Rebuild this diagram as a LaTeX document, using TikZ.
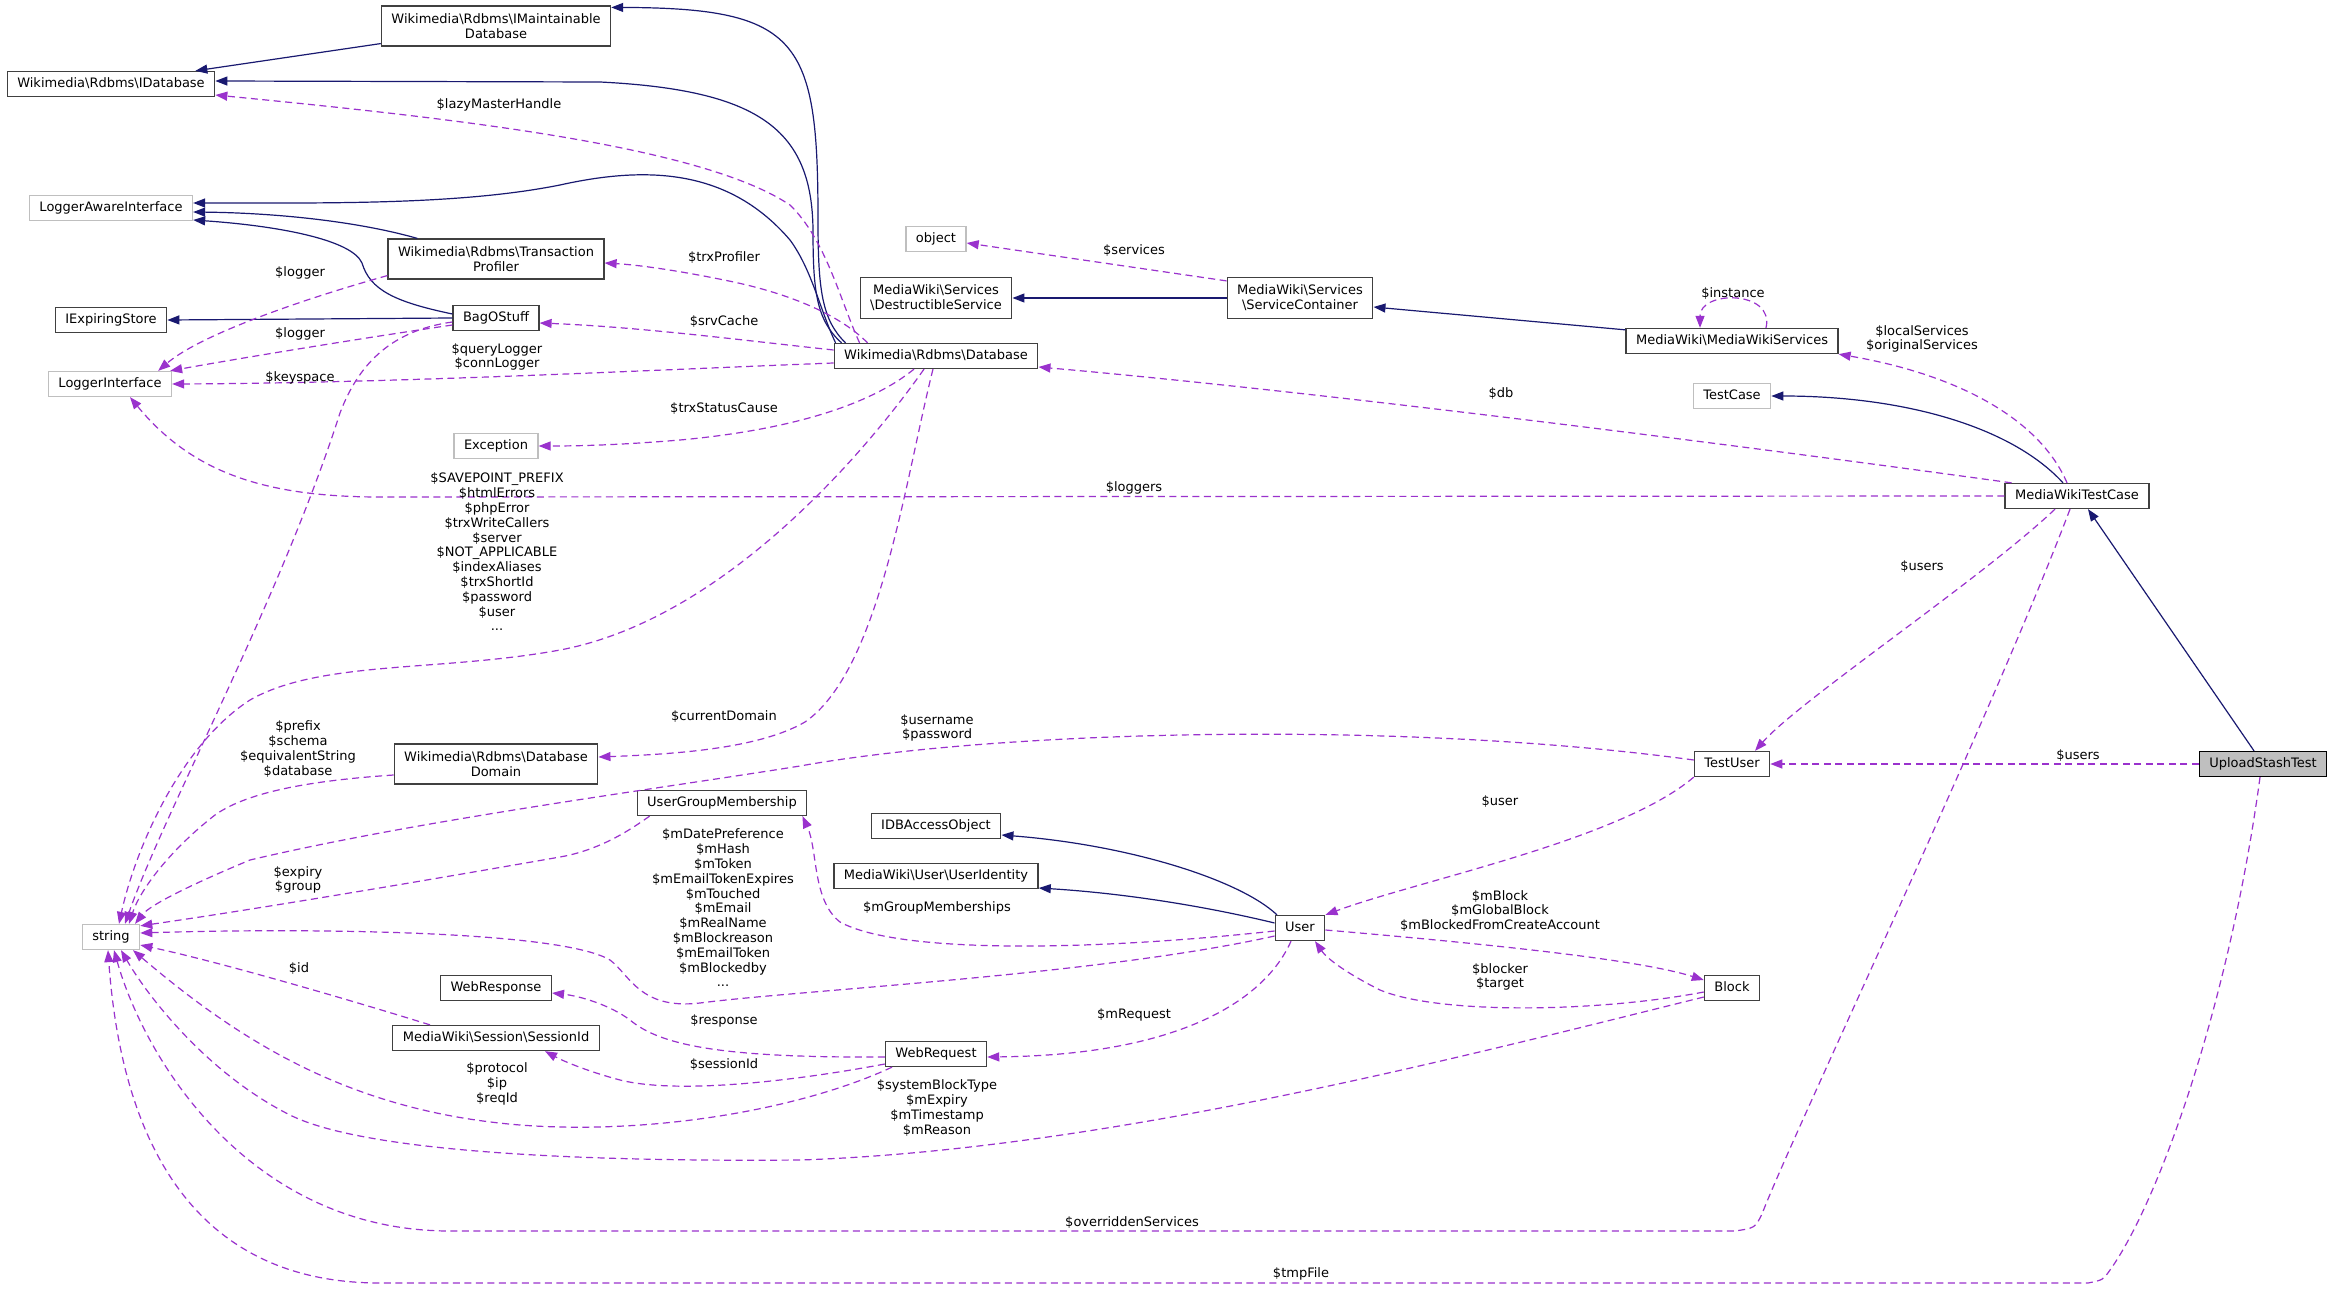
\documentclass[tikz,border=0pt]{standalone}
\usepackage{fontspec}
\setmainfont{DejaVu Sans}
\usetikzlibrary{arrows.meta}
\definecolor{navyline}{HTML}{191970}
\definecolor{orchid}{HTML}{9A32CD}
\definecolor{extgray}{HTML}{BFBFBF}
\definecolor{boxline}{HTML}{404040}
\newcommand{\bksl}{\textbackslash}

\begin{document}
\begin{tikzpicture}[x=1pt,y=-1pt,font=\fontsize{13}{14.8}\selectfont,
  cls/.style={draw=boxline,line width=1.3pt,fill=white,inner xsep=10pt,inner ysep=6pt,text height=10pt,text depth=3pt},
  cls2/.style={draw=boxline,line width=1.3pt,fill=white,inner xsep=10pt,inner ysep=7.5pt,align=center},
  ext/.style={cls,draw=extgray},
  cur/.style={cls,fill=extgray,draw=black},
  lbl/.style={inner sep=0pt,align=center},
  inhline/.style={navyline,line width=1.2pt,-{Triangle[length=12pt,width=9pt]}},
  memline/.style={orchid,line width=1.2pt,dash pattern=on 7pt off 4.5pt,-{Triangle[length=12pt,width=9pt]}}]
\path[use as bounding box,fill=white] (0,0) rectangle (2336,1289);

\foreach \nm/\x/\y/\txt in {idb/111/84/Wikimedia\bksl Rdbms\bksl IDatabase, ies/111/320/IExpiringStore,
  bag/496/318/BagOStuff, db/936/356/Wikimedia\bksl Rdbms\bksl Database, mws/1732/341/MediaWiki\bksl MediaWikiServices,
  mwtc/2077/496/MediaWikiTestCase, tu/1732/764/TestUser, ugm/722/803/UserGroupMembership,
  idbao/936/826/IDBAccessObject, uid/936/876/MediaWiki\bksl User\bksl UserIdentity, user/1300/928/User,
  wresp/496/988/WebResponse, block/1732/988/Block, sid/496/1038/MediaWiki\bksl Session\bksl SessionId,
  wreq/936/1054/WebRequest}
  {\node[cls] (\nm) at (\x,\y) {\txt};}
\foreach \nm/\x/\y/\txt in {lai/111/208/LoggerAwareInterface, li/110/384/LoggerInterface, exc/496/446/Exception,
  obj/936/239/object, tc/1732/396/TestCase, str/111/937/string}
  {\node[ext] (\nm) at (\x,\y) {\txt};}
\node[cls2] (imaint) at (496,26) {Wikimedia\bksl Rdbms\bksl IMaintainable\\Database};
\node[cls2] (tp) at (496,259) {Wikimedia\bksl Rdbms\bksl Transaction\\Profiler};
\node[cls2] (ds) at (936,298) {MediaWiki\bksl Services\\\bksl DestructibleService};
\node[cls2] (sc) at (1300,298) {MediaWiki\bksl Services\\\bksl ServiceContainer};
\node[cls2] (dd) at (496,764) {Wikimedia\bksl Rdbms\bksl Database\\Domain};
\node[cur] (ust) at (2263,764) {UploadStashTest};

\draw[inhline] ([yshift=3pt]imaint.south west) -- ([xshift=-20pt]idb.north east);
\draw[inhline] ([xshift=12pt]db.north west) .. controls (822,320) and (818,290) .. (818,220) .. controls (818,40) and (800,8) .. ([yshift=-2pt]imaint.north east);
\draw[inhline] ([xshift=8pt]db.north west) .. controls (816,320) and (813,290) .. (813,230) .. controls (812,130) and (760,90) .. (600,82) -- ([yshift=3pt]idb.east);
\draw[inhline] ([xshift=2pt]db.north west) .. controls (820,310) and (812,270) .. (790,240) .. controls (730,170) and (650,165) .. (560,185) .. controls (460,205) and (330,203) .. ([yshift=5pt]lai.east);
\draw[inhline] ([xshift=30pt]tp.north west) .. controls (360,222) and (280,213) .. ([yshift=-4pt]lai.east);
\draw[inhline] ([yshift=4pt]bag.west) .. controls (395,302) and (370,290) .. (362,263) .. controls (352,240) and (280,226) .. ([yshift=-12pt]lai.east);
\draw[inhline] (bag.west) -- (ies.east);
\draw[inhline] (sc.west) -- (ds.east);
\draw[inhline] ([yshift=-2pt]mws.north west) -- ([yshift=-9pt]sc.east);
\draw[inhline] ([xshift=-14pt]mwtc.north) .. controls (2010,425) and (1900,396) .. (tc.east);
\draw[inhline] ([xshift=-9pt]ust.north) -- ([xshift=11pt]mwtc.south);
\draw[inhline] ([xshift=-23pt]user.north) .. controls (1240,880) and (1130,845) .. ([yshift=-9pt]idbao.east);
\draw[inhline] ([yshift=5pt]user.west) .. controls (1200,905) and (1120,893) .. ([yshift=-12pt]uid.east);

\draw[memline] ([xshift=26pt]db.north west) .. controls (840,300) and (826,240) .. (790,205) .. controls (700,145) and (450,118) .. ([yshift=-11pt]idb.east);
\draw[memline] ([xshift=34pt]db.north west) .. controls (845,320) and (800,295) .. (724,280) .. controls (680,271) and (640,265) .. ([yshift=-4pt]tp.east);
\draw[memline] ([yshift=6pt]db.west) .. controls (740,340) and (640,327) .. ([yshift=-5pt]bag.east);
\draw[memline] ([yshift=-7pt]db.west) .. controls (650,370) and (400,383) .. (li.east);
\draw[memline] ([xshift=-22pt]db.south) .. controls (870,405) and (790,430) .. (680,440) .. controls (620,445) and (580,446) .. (exc.east);
\draw[memline] ([xshift=-12pt]db.south) .. controls (860,460) and (720,620) .. (560,650) .. controls (440,672) and (320,660) .. (250,700) .. controls (180,745) and (135,850) .. ([xshift=8pt]str.north);
\draw[memline] ([xshift=-3pt]db.south) .. controls (905,480) and (880,670) .. (805,722) .. controls (760,748) and (680,754) .. ([yshift=7pt]dd.east);
\draw[memline] ([yshift=-7pt]bag.west) .. controls (350,340) and (230,360) .. ([xshift=-2pt]li.north east);
\draw[memline] ([yshift=4pt]tp.south west) .. controls (300,300) and (200,335) .. ([xshift=-14pt]li.north east);
\draw[memline] ([yshift=-4pt]bag.west) .. controls (395,330) and (360,360) .. (340,413) .. controls (280,600) and (165,810) .. ([xshift=14pt]str.north);
\draw[memline] (mwtc.west) -- (380,497) .. controls (260,497) and (190,470) .. ([xshift=20pt]li.south);
\draw[memline] ([yshift=-4pt]sc.north west) -- ([yshift=-4pt]obj.east);
\draw[memline] ([xshift=34pt]mws.north) .. controls (1775,290) and (1700,290) .. ([xshift=-32pt]mws.north);
\draw[memline] ([xshift=-10pt]mwtc.north) .. controls (2040,420) and (1960,375) .. (mws.south east);
\draw[memline] ([xshift=7pt]mwtc.north west) .. controls (1700,440) and (1300,390) .. ([yshift=-11pt]db.east);
\draw[memline] ([xshift=-22pt]mwtc.south) .. controls (1980,580) and (1800,700) .. ([xshift=23pt]tu.north);
\draw[memline] (ust.west) -- (tu.east);
\draw[memline] (tu.south west) .. controls (1620,840) and (1420,880) .. (user.north east);
\draw[memline] ([yshift=-2pt]user.east) .. controls (1500,945) and (1640,960) .. ([yshift=8pt]block.west);
\draw[memline] ([yshift=-4pt]block.west) .. controls (1600,1012) and (1440,1015) .. (1380,990) .. controls (1350,975) and (1328,960) .. ([xshift=15pt]user.south);
\draw[memline] ([xshift=-9pt]user.south) .. controls (1265,1000) and (1180,1055) .. ([yshift=-3pt]wreq.east);
\draw[memline] ([yshift=-3pt]wreq.west) .. controls (720,1058) and (660,1045) .. (630,1020) .. controls (610,1005) and (580,996) .. ([yshift=-5pt]wresp.east);
\draw[memline] ([yshift=-10pt]wreq.west) .. controls (800,1080) and (680,1095) .. (620,1080) .. controls (590,1072) and (565,1062) .. ([xshift=49pt]sid.south);
\draw[memline] ([yshift=-3pt]user.west) .. controls (1100,950) and (900,955) .. (840,922) .. controls (812,900) and (818,850) .. ([xshift=-5pt]ugm.south east);
\draw[memline] ([yshift=-11pt]dd.west) .. controls (320,780) and (250,790) .. (215,815) .. controls (170,850) and (140,890) .. ([xshift=18pt]str.north);
\draw[memline] ([yshift=4pt]tu.west) .. controls (1400,720) and (1000,730) .. (800,766) .. controls (650,790) and (420,820) .. (250,860) .. controls (190,885) and (150,905) .. ([xshift=24pt]str.north);
\draw[memline] ([xshift=13pt]ugm.south west) .. controls (630,830) and (600,850) .. (560,857) .. controls (400,885) and (250,910) .. ([yshift=-2pt]str.north east);
\draw[memline] ([yshift=-8pt]user.west) .. controls (1100,975) and (800,990) .. (700,1003) .. controls (640,1010) and (630,975) .. (610,960) .. controls (560,930) and (300,928) .. ([yshift=4pt]str.east);
\draw[memline] ([xshift=-66pt]sid.north) .. controls (350,1000) and (220,962) .. ([yshift=-8pt]str.east);
\draw[memline] ([xshift=-44pt]wreq.south) .. controls (800,1110) and (650,1135) .. (520,1125) .. controls (360,1112) and (250,1050) .. ([xshift=22pt]str.south);
\draw[memline] ([yshift=-9pt]block.west) .. controls (1450,1060) and (1100,1150) .. (800,1160) .. controls (560,1162) and (360,1150) .. (290,1115) .. controls (210,1075) and (150,1000) .. ([xshift=10pt]str.south);
\draw[memline] ([xshift=-7pt]mwtc.south) .. controls (1990,720) and (1790,1140) .. (1762,1214) .. controls (1755,1228) .. (1735,1231) -- (450,1231) .. controls (250,1231) and (145,1060) .. ([xshift=3pt]str.south);
\draw[memline] ([xshift=-3pt]ust.south) .. controls (2230,1000) and (2160,1200) .. (2110,1270) .. controls (2103,1280) .. (2088,1283) -- (380,1283) .. controls (180,1283) and (120,1120) .. ([xshift=-3pt]str.south);

\foreach \nm/\x/\y/\txt in {llazy/499/105/\$lazyMasterHandle, ltrxprof/724/258/\$trxProfiler,
  lsrvcache/724/322/\$srvCache, lloggera/300/273/\$logger, lloggerb/300/334/\$logger,
  lkeyspace/300/378/\$keyspace, ltrxstatus/724/409/\$trxStatusCause, lcurdomain/724/717/\$currentDomain,
  lgroupm/937/908/\$mGroupMemberships, lid/299/969/\$id, lresponse/724/1021/\$response,
  lsession/724/1065/\$sessionId, lmrequest/1134/1015/\$mRequest, loverridden/1132/1223/\$overriddenServices,
  ltmpfile/1301/1274/\$tmpFile, luser/1500/802/\$user, lusersa/1922/567/\$users, lusersb/2078/756/\$users,
  ldb/1501/394/\$db, lloggers/1134/488/\$loggers, lservices/1134/251/\$services, linstance/1733/294/\$instance}
  {\node[lbl] (\nm) at (\x,\y) {\txt};}
\node[lbl] (lquery) at (497,357) {\$queryLogger\\\$connLogger};
\node[lbl] (lsavepoint) at (497,552) {\$SAVEPOINT\_PREFIX\\\$htmlErrors\\\$phpError\\\$trxWriteCallers\\\$server\\\$NOT\_APPLICABLE\\\$indexAliases\\\$trxShortId\\\$password\\\$user\\...};
\node[lbl] (lprefix) at (298,749) {\$prefix\\\$schema\\\$equivalentString\\\$database};
\node[lbl] (lusername) at (937,728) {\$username\\\$password};
\node[lbl] (lexpiry) at (298,880) {\$expiry\\\$group};
\node[lbl] (lmdate) at (723,908) {\$mDatePreference\\\$mHash\\\$mToken\\\$mEmailTokenExpires\\\$mTouched\\\$mEmail\\\$mRealName\\\$mBlockreason\\\$mEmailToken\\\$mBlockedby\\...};
\node[lbl] (lprotocol) at (497,1084) {\$protocol\\\$ip\\\$reqId};
\node[lbl] (lsysblock) at (937,1108) {\$systemBlockType\\\$mExpiry\\\$mTimestamp\\\$mReason};
\node[lbl] (lmblock) at (1500,911) {\$mBlock\\\$mGlobalBlock\\\$mBlockedFromCreateAccount};
\node[lbl] (lblocker) at (1500,977) {\$blocker\\\$target};
\node[lbl] (llocal) at (1922,339) {\$localServices\\\$originalServices};
\end{tikzpicture}
\end{document}
